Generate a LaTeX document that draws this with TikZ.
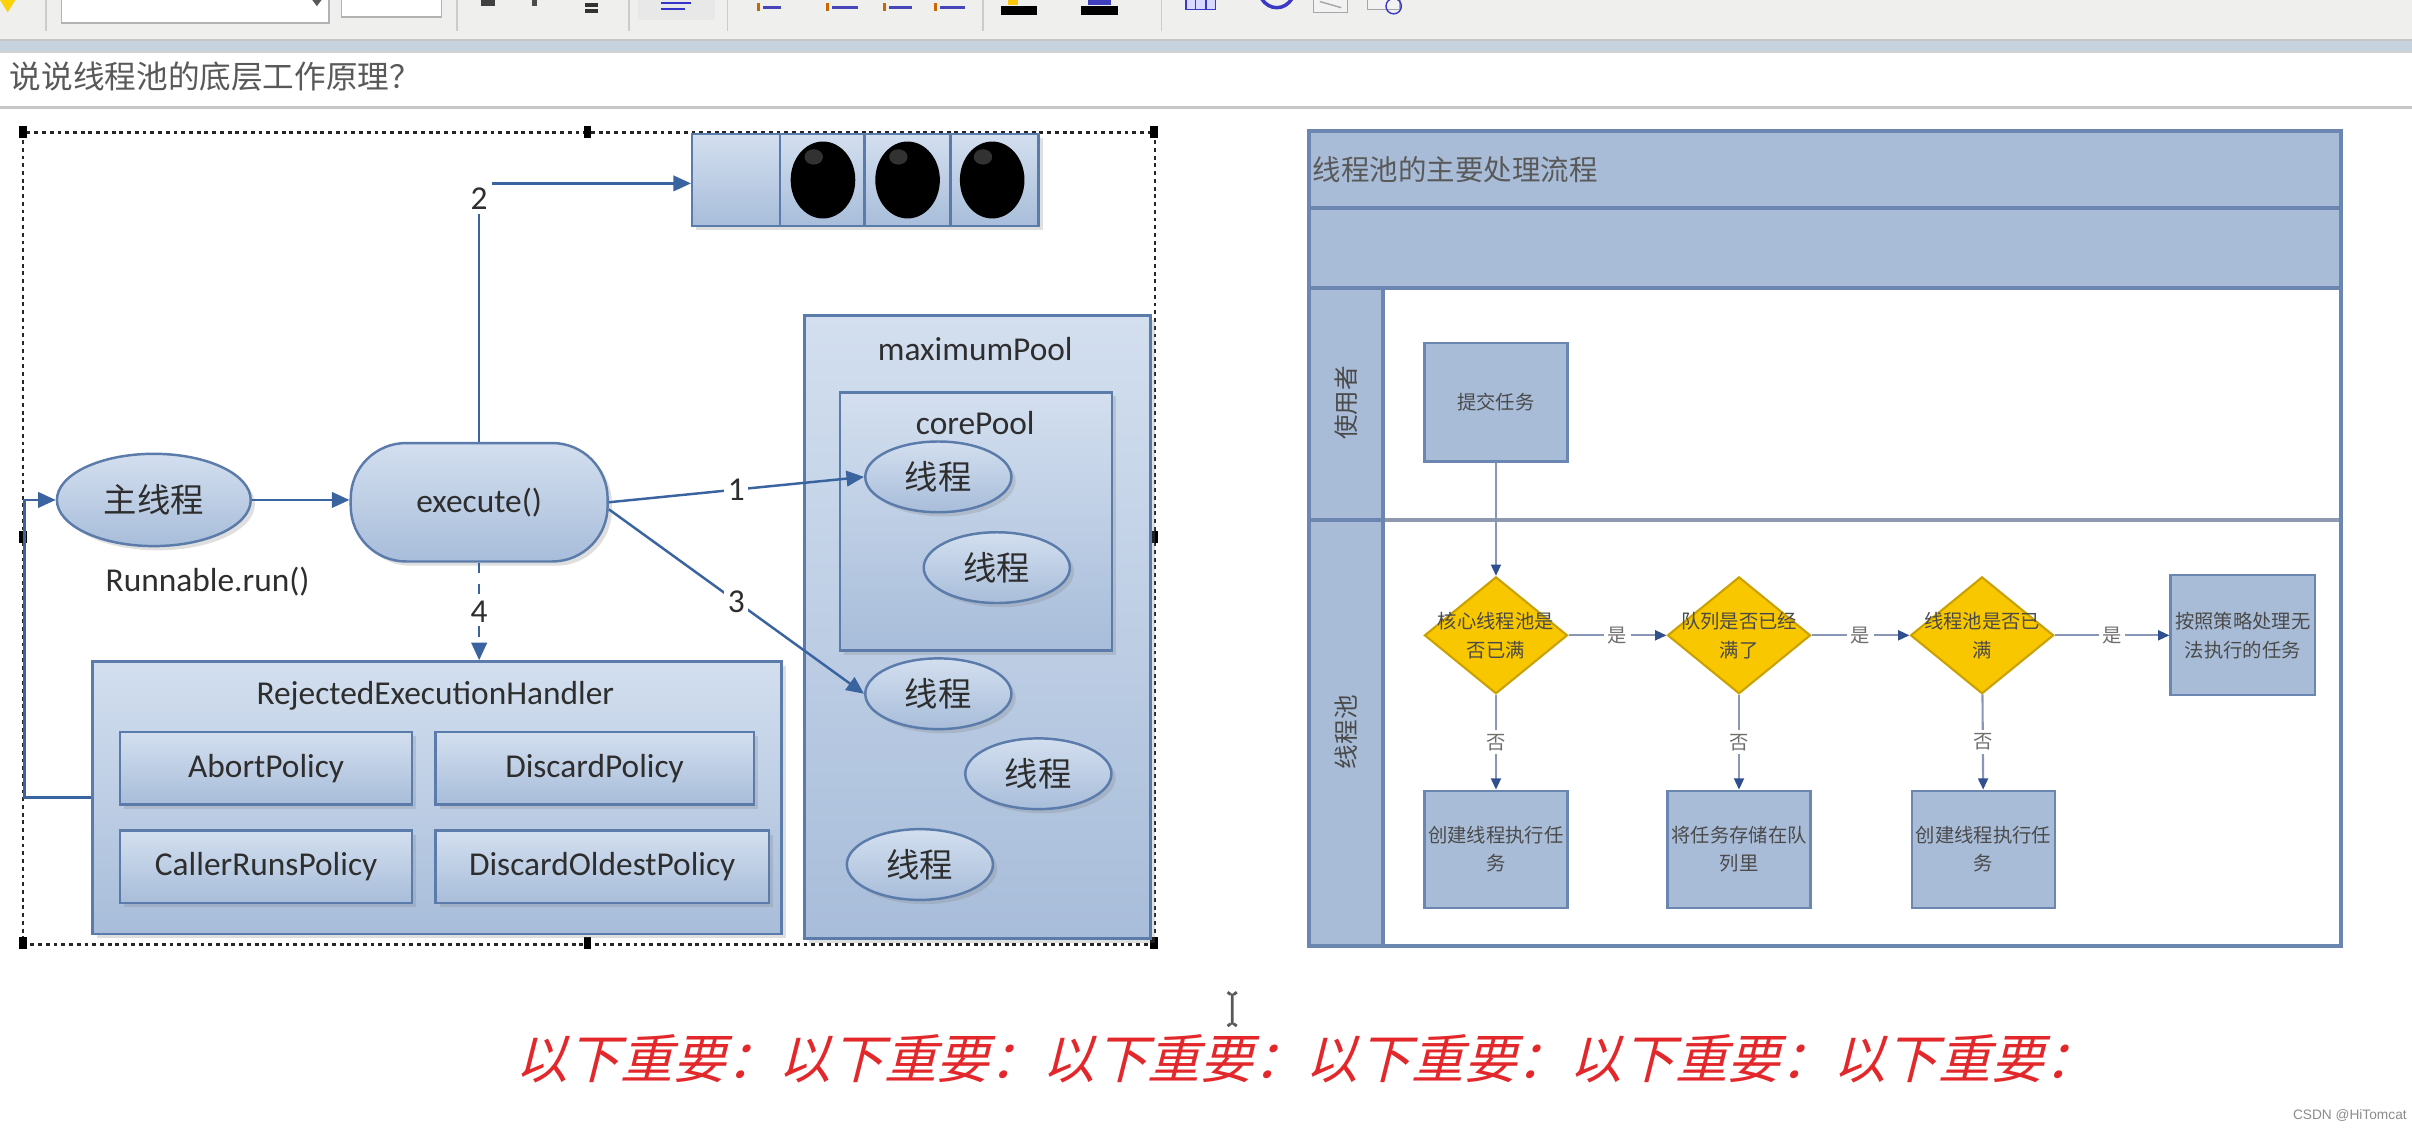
\documentclass[tikz,border=0pt]{standalone}
\usepackage{fontspec}
\setmainfont{Carlito}
\newfontfamily\cjk{Noto Sans CJK SC}
\newfontfamily\cjkit[FakeSlant=0.25]{Noto Sans CJK SC}
\newfontfamily\wmfont{Liberation Sans}
\usetikzlibrary{arrows.meta,shapes.geometric,shadows,calc}
\newlength\ux
\setlength\ux{0.4377pt}
\newcommand\fsL{\fontsize{9.5pt}{11pt}\selectfont}
\newcommand\fsH{\fontsize{9pt}{11pt}\selectfont}
\newcommand\fsT{\fontsize{8.1pt}{10pt}\selectfont}
\newcommand\fsLane{\fontsize{7pt}{8pt}\selectfont}
\newcommand\fsS{\fontsize{5.5pt}{8.2pt}\selectfont}
\newcommand\fsI{\fontsize{15pt}{17pt}\selectfont}
\definecolor{btop}{HTML}{D3DFEF}
\definecolor{bbot}{HTML}{A8BDDA}
\definecolor{bbord}{HTML}{5B7BAA}
\definecolor{arrc}{HTML}{3A64A0}
\definecolor{txt}{HTML}{2E2E2E}
\definecolor{lane}{HTML}{A8BCD8}
\definecolor{laneb}{HTML}{6B87B1}
\definecolor{lsep}{HTML}{8C99AE}
\definecolor{gold}{HTML}{F8C700}
\definecolor{goldb}{HTML}{C9A100}
\definecolor{imp}{HTML}{E3282B}
\definecolor{ftxt}{HTML}{4A4A4A}
\definecolor{fline}{HTML}{8797B5}
\definecolor{fhead}{HTML}{2F4F8F}
\definecolor{tbar}{HTML}{EFEFED}
\definecolor{band}{HTML}{C6D2DE}
\tikzset{
  shade box/.style={draw=bbord, line width=0.7pt, top color=btop, bottom color=bbot,
    drop shadow={opacity=0.25, shadow xshift=1.2pt, shadow yshift=-1.2pt}, inner sep=0pt, text=txt},
  bell/.style={shade box, ellipse},
  brect/.style={shade box, rectangle},
  bround/.style={shade box, rectangle, rounded corners=36\ux},
  arr/.style={draw=arrc, line width=0.7pt, -{Triangle[length=5pt,width=4.4pt]}},
  plain/.style={draw=arrc, line width=0.7pt},
  lbl/.style={fill=white, inner sep=1pt, text=txt, font=\fsL},
  ftext/.style={text=ftxt, font=\cjk\fsS, align=center, inner sep=0pt},
  fbox/.style={draw=laneb, line width=0.6pt, fill=lane, rectangle, minimum width=93\ux, minimum height=77\ux,
    inner sep=0pt, text=ftxt, font=\cjk\fsS, align=center},
  dia/.style={draw=goldb, line width=0.6pt, fill=gold, diamond, minimum width=93\ux, minimum height=76\ux, inner sep=0pt},
  farr/.style={draw=fline, line width=0.6pt, -{Triangle[length=3.2pt,width=2.8pt,color=fhead]}},
  flbl/.style={fill=white, inner sep=1pt, text=ftxt!80, font=\cjk\fsS},
  handle/.style={fill=black},
}
\begin{document}
\begin{tikzpicture}[x=\ux, y=-\ux]
\useasboundingbox (0,0) rectangle (1568,735);
\fill[white] (0,0) rectangle (1568,735);

% ---------------- toolbar ----------------
\fill[tbar] (0,0) rectangle (1568,26);
\fill[band] (0,26) rectangle (1568,34);
\draw[gray!45, line width=0.5pt] (0,26) -- (1568,26);
\draw[gray!35, line width=0.5pt] (0,34) -- (1568,34);
\fill[yellow!70!orange] (0,0) -- (10,0) -- (5,8) -- cycle;
\draw[gray!60, fill=white] (40,-3) rectangle (214,15);
\fill[gray!70!black] (203,0) -- (209,0) -- (206,4) -- cycle;
\draw[gray!60, fill=white] (222,-3) rectangle (287,11);
\foreach \sx in {30,297,409,473,639,755} \draw[gray!40, line width=0.5pt] (\sx,0) -- (\sx,20);
\fill[gray!18] (415,-2) rectangle (465,13);
\fill[black!75] (313,0) rectangle (322,4);
\fill[black!70] (346,0) rectangle (349,4);
\fill[black!80] (380,2) rectangle (389,4.5);
\fill[black!80] (380,6) rectangle (389,8.5);
\fill[blue!60!gray] (430,1) rectangle (449,2.5);
\fill[blue!60!gray] (430,5) rectangle (445,6.5);
\foreach \ix/\iw in {495/13,540/18,577/16,610/17}{
  \fill[orange!80!black] (\ix-3,2) rectangle (\ix-1,7);
  \fill[blue!45!gray] (\ix+1,4) rectangle (\ix+\iw,6);
}
\fill[yellow!60!orange] (655,-1) rectangle (662,3);
\fill[black] (651,4) rectangle (674,9.5);
\fill[blue!50!gray] (707,-1) rectangle (722,3);
\fill[black] (703,4) rectangle (727,9.5);
\draw[blue!55!gray, fill=blue!15] (771,-2) rectangle (790,6);
\draw[blue!55!gray] (777,-2) -- (777,6) (784,-2) -- (784,6);
\draw[blue!55!gray, line width=1pt] (820,-1) .. controls (825,7) and (835,7) .. (840,-1);
\draw[gray!70, fill=gray!10] (854,-2) rectangle (876,8);
\draw[gray!70] (858,1) -- (872,5);
\draw[gray!70, fill=gray!10] (889,-2) rectangle (910,6);
\draw[blue!55!gray] (906,4) circle (5);

% title line
\node[anchor=west, inner sep=0pt, text=black!65] (title) at (6,50) {\cjk\fsH 说说线程池的底层工作原理？};
\draw[gray!45, line width=0.9pt] (0,70) -- (1568,70);

% ---------------- left diagram ----------------
% selection frame
\draw[black!85, line width=0.7pt, dash pattern=on 1.1pt off 1.1pt] (15,86) rectangle (751,614);
\foreach \hx/\hy in {15/86,382/86,750/86,15/349,750/349,15/613,382/613,750/613}
  \fill[handle] (\hx-2.5,\hy-4) rectangle (\hx+2.5,\hy+4);

% queue
\node[brect, minimum width=225\ux, minimum height=60\ux] (qu) at (562.5,117) {};
\draw[bbord, line width=0.7pt] (507,87) -- (507,147) (562,87) -- (562,147) (618,87) -- (618,147);
\foreach \cx in {535,590,645}{
  \fill[black] (\cx,117) ellipse [x radius=21, y radius=25];
  \fill[gray!70, opacity=0.3] (\cx-6,102) ellipse [x radius=6, y radius=5];
}

% maximum pool
\node[brect, minimum width=225\ux, minimum height=405\ux] (maxp) at (635.5,407.5) {};
\node[text=txt, font=\fsL] (maxpt) at (634,227) {maximumPool};
\node[brect, minimum width=177\ux, minimum height=168\ux] (corep) at (634.5,339) {};
\node[text=txt, font=\fsL] (corept) at (634,275) {corePool};
\node[bell, minimum width=95\ux, minimum height=46\ux, font=\cjk\fsL] (t1) at (610,310) {线程};
\node[bell, minimum width=95\ux, minimum height=46\ux, font=\cjk\fsL] (t2) at (648,369) {线程};
\node[bell, minimum width=95\ux, minimum height=46\ux, font=\cjk\fsL] (t3) at (610,451) {线程};
\node[bell, minimum width=95\ux, minimum height=46\ux, font=\cjk\fsL] (t4) at (675,503) {线程};
\node[bell, minimum width=95\ux, minimum height=46\ux, font=\cjk\fsL] (t5) at (598,562) {线程};

% main thread & execute
\node[bell, minimum width=126\ux, minimum height=60\ux, font=\cjk\fsL] (main) at (100,325) {主线程};
\node[text=txt, font=\fsL] (rr) at (135,378) {Runnable.run()};
\node[bround, minimum width=167\ux, minimum height=77\ux, font=\fsL] (exec) at (311.5,326.5) {execute()};

% rejected handler
\node[brect, minimum width=448\ux, minimum height=177\ux] (rh) at (284,518.5) {};
\node[text=txt, font=\fsL] (rht) at (283,452) {RejectedExecutionHandler};
\node[brect, minimum width=190\ux, minimum height=47\ux, font=\fsL] (ab) at (173,499.5) {AbortPolicy};
\node[brect, minimum width=207\ux, minimum height=47\ux, font=\fsL] (dp) at (386.5,499.5) {DiscardPolicy};
\node[brect, minimum width=190\ux, minimum height=47\ux, font=\fsL] (cr) at (173,563.5) {CallerRunsPolicy};
\node[brect, minimum width=217\ux, minimum height=47\ux, font=\fsL] (dop) at (391.5,563.5) {DiscardOldestPolicy};

% connectors
\draw[arr] (main.east) -- (main.east -| exec.west);
\draw[arr] (exec.east) -- node[lbl] (n1) {1} (t1.west);
\draw[arr] ([yshift=-2pt]exec.east) -- node[lbl] (n3) {3} (t3.west);
\draw[arr, dashed] (exec.south) -- node[lbl] (n4) {4} (exec.south |- rh.north);
\node[lbl] (n2) at (311.5,129) {2};
\draw[plain] (exec.north) -- (n2.south);
\draw[arr] (n2.north east) -- (n2.north east -| qu.west);
\coordinate (fb) at (16,325);
\draw[arr] (rh.west) -| (fb) -- (main.west);

% ---------------- right swimlane ----------------
\fill[lane] (851,85) rectangle (1522,187);
\fill[lane] (851,187) rectangle (899,615);
\fill[white] (899,187) rectangle (1522,615);
\draw[lsep, line width=1.3pt] (899,338) -- (1522,338);
\draw[laneb, line width=1pt] (851,338) -- (899,338);
\draw[laneb, line width=1.2pt] (851,135) -- (1522,135) (851,187) -- (1522,187) (899,187) -- (899,615);
\draw[laneb, line width=1.2pt] (851,85) rectangle (1522,615);
\node[anchor=west, inner sep=0pt, text=black!65, font=\cjk\fsT] (rt) at (853,110) {线程池的主要处理流程};
\node[rotate=90, text=ftxt, font=\cjk\fsLane] (l1) at (875,262) {使用者};
\node[rotate=90, text=ftxt, font=\cjk\fsLane] (l2) at (875,476) {线程池};

\node[fbox] (sub) at (972.5,261.5) {提交任务};
\node[dia] (d1) at (972.5,413) {};
\node[dia] (d2) at (1130.5,413) {};
\node[dia] (d3) at (1288.5,413) {};
\node[ftext] (d1t) at (d1) {核心线程池是\\否已满};
\node[ftext] (d2t) at (d2) {队列是否已经\\满了};
\node[ftext] (d3t) at (d3) {线程池是否已\\满};
\node[fbox, minimum width=94\ux, minimum height=78\ux] (rb) at (1458,413) {按照策略处理无\\法执行的任务};
\node[fbox, minimum height=76\ux] (c1) at (972.5,552) {创建线程执行任\\务};
\node[fbox, minimum height=76\ux] (c2) at (1130.5,552) {将任务存储在队\\列里};
\node[fbox, minimum height=76\ux] (c3) at (1289.5,552) {创建线程执行任\\务};

\draw[farr] (sub) -- (d1);
\draw[farr] (d1) -- node[flbl] (y1) {是} (d2);
\draw[farr] (d2) -- node[flbl] (y2) {是} (d3);
\draw[farr] (d3) -- node[flbl] (y3) {是} (rb);
\draw[farr] (d1) -- node[flbl] (f1) {否} (c1);
\draw[farr] (d2) -- node[flbl] (f2) {否} (c2);
\draw[farr] (d3) -- node[flbl] (f3) {否} (c3);

% ---------------- bottom ----------------
\draw[black!65, line width=0.8pt] (801,646) -- (801,666) (798,645) -- (800,646.5) (804,645) -- (802,646.5) (798,667) -- (800,665.5) (804,667) -- (802,665.5);
\node[text=imp, font=\cjkit\fsI, inner sep=0pt] (imp) at (849,688) {以下重要：以下重要：以下重要：以下重要：以下重要：以下重要：};
\node[anchor=east, inner sep=0pt, text=black!45, font=\wmfont\fontsize{3.9pt}{4.5pt}\selectfont] (wm) at (1565,725) {CSDN @HiTomcat};
\end{tikzpicture}
\end{document}
